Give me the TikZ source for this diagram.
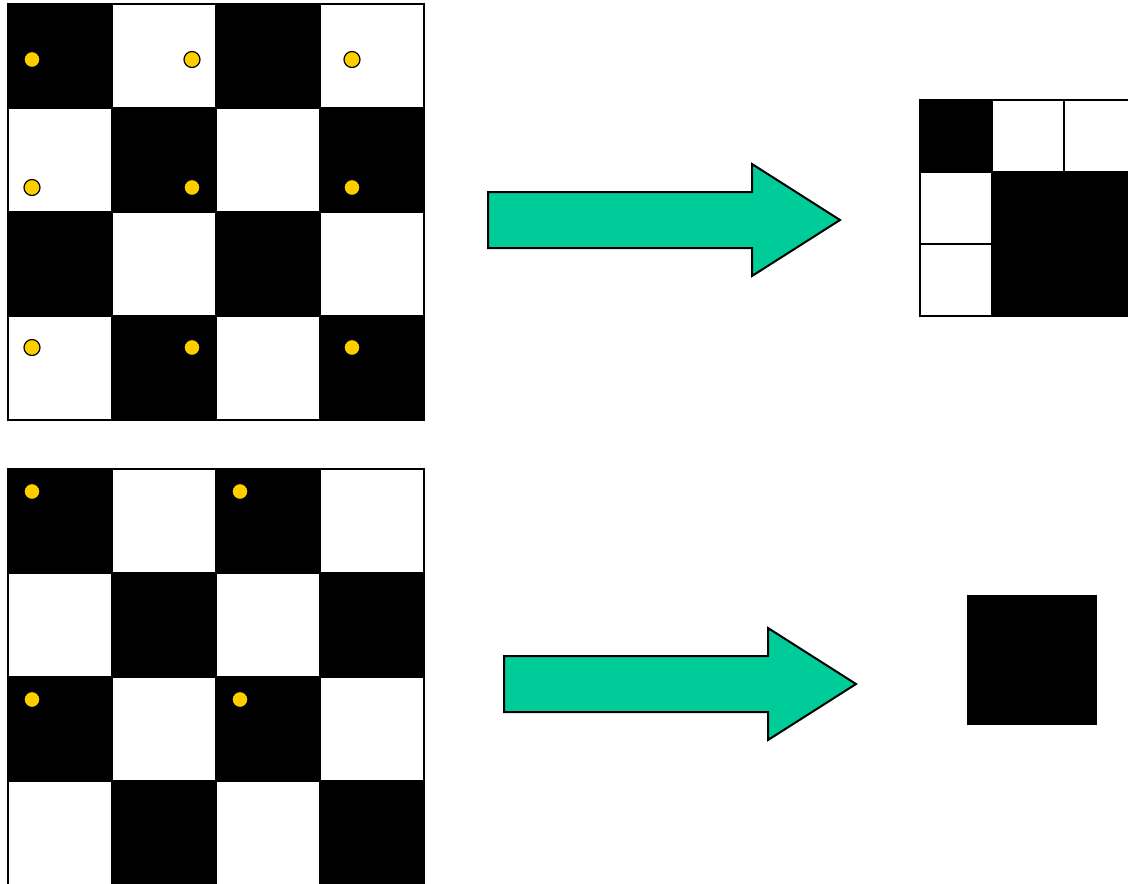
\documentclass[tikz,border=0pt]{standalone}
\usetikzlibrary{calc}
\definecolor{dotyellow}{HTML}{FFCC00}
\definecolor{arrowgreen}{HTML}{00CC99}
\tikzset{
  bigcell/.style={draw=black,line width=1.5pt,minimum size=78pt,inner sep=0pt,outer sep=0pt},
  smallcell/.style={draw=black,line width=1.5pt,minimum size=54pt,inner sep=0pt,outer sep=0pt},
  blk/.style={fill=black},
  wht/.style={fill=white},
  dot/.style={circle,draw=black,line width=0.9pt,fill=dotyellow,minimum size=12pt,inner sep=0pt},
  fatarrow/.style={draw=black,line width=1.5pt,fill=arrowgreen,line join=miter},
}
\begin{document}
\begin{tikzpicture}[x=0.75pt,y=-0.75pt]
\useasboundingbox (0,0) rectangle (1128,883);
% top checkerboard
\foreach \r in {0,...,3}{
  \foreach \c in {0,...,3}{
    \pgfmathtruncatemacro{\myparity}{mod(\r+\c,2)}
    \ifnum\myparity=0
      \node[bigcell,blk] (t\r\c) at ({60+104*\c},{56+104*\r}) {};
    \else
      \node[bigcell,wht] (t\r\c) at ({60+104*\c},{56+104*\r}) {};
    \fi
  }
}
% bottom checkerboard
\foreach \r in {0,...,3}{
  \foreach \c in {0,...,3}{
    \pgfmathtruncatemacro{\myparity}{mod(\r+\c,2)}
    \ifnum\myparity=0
      \node[bigcell,blk] (b\r\c) at ({60+104*\c},{520.5+104*\r}) {};
    \else
      \node[bigcell,wht] (b\r\c) at ({60+104*\c},{520.5+104*\r}) {};
    \fi
  }
}
% dots top
\foreach \x in {32,192,352}{
  \foreach \y in {59.5,187.5,347.5}{
    \node[dot] at (\x,\y) {};
  }
}
% dots bottom
\foreach \x in {32,240}{
  \foreach \y in {491.5,699.5}{
    \node[dot] at (\x,\y) {};
  }
}
% arrows
\draw[fatarrow] (488,192) -- (752,192) -- (752,164) -- (840,220) -- (752,276) -- (752,248) -- (488,248) -- cycle;
\draw[fatarrow] (504,656) -- (768,656) -- (768,628) -- (856,684) -- (768,740) -- (768,712) -- (504,712) -- cycle;
% result grid top right
\node[smallcell,blk] (r00) at (956,136) {};
\node[smallcell,wht] (r01) at (1028,136) {};
\node[smallcell,wht] (r02) at (1100,136) {};
\node[smallcell,wht] (r10) at (956,208) {};
\node[smallcell,blk] (r11) at (1028,208) {};
\node[smallcell,blk] (r12) at (1100,208) {};
\node[smallcell,wht] (r20) at (956,280) {};
\node[smallcell,blk] (r21) at (1028,280) {};
\node[smallcell,blk] (r22) at (1100,280) {};
% result bottom right
\node[fill=black,minimum size=97.5pt,inner sep=0pt] (res) at (1032,660) {};
\end{tikzpicture}
\end{document}
